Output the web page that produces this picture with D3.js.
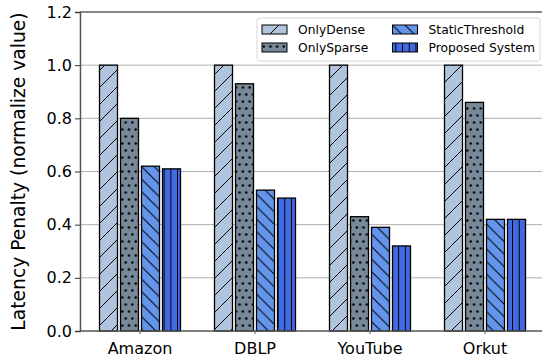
<!DOCTYPE html>
<html>
<head>
<meta charset="utf-8">
<script src="https://cdn.jsdelivr.net/npm/d3@7"></script>
<style>
  body { margin: 0; background: #fff; }
  svg { font-family: "DejaVu Sans", sans-serif; }
</style>
</head>
<body>
<svg width="542" height="362"></svg>
<script>
// data
categories = ["Amazon", "DBLP", "YouTube", "Orkut"];
seriesNames = ["OnlyDense", "OnlySparse", "StaticThreshold", "Proposed System"];
onlyDense = [1.0, 1.0, 1.0, 1.0];
onlySparse = [0.80, 0.93, 0.43, 0.86];
staticThreshold = [0.62, 0.53, 0.39, 0.42];
proposedSystem = [0.61, 0.50, 0.32, 0.42];
yTicks = [0.0, 0.2, 0.4, 0.6, 0.8, 1.0, 1.2];

const seriesValues = [onlyDense, onlySparse, staticThreshold, proposedSystem];
const colors = ["#b0c4de", "#778899", "#6495ed", "#4169e1"];
const hatches = ["diag", "dots", "back", "vert"];

const svg = d3.select("svg");
const margin = { left: 80, top: 12, right: 0, bottom: 31 };
const width = 542, height = 362;
const y0 = height - margin.bottom;

// hatch patterns
const defs = svg.append("defs");
hatches.forEach(function(h, i){
    var p = defs.append("pattern")
        .attr("id", "pat-" + h)
        .attr("patternUnits", "userSpaceOnUse");
    if (h == "diag") {
        var s = 17;
        p.attr("width", s).attr("height", s);
        p.append("rect").attr("width", s).attr("height", s).attr("fill", colors[i]);
        p.append("path").attr("d", "M-2," + (s + 2) + " L" + (s + 2) + ",-2 M-4,4 L4,-4 M" + (s - 4) + "," + (s + 4) + " L" + (s + 4) + "," + (s - 4))
            .attr("stroke", "#000").attr("stroke-width", 1);
    } else if (h == "back") {
        var s = 12.5;
        p.attr("width", s).attr("height", s);
        p.append("rect").attr("width", s).attr("height", s).attr("fill", colors[i]);
        p.append("path").attr("d", "M-2,-2 L" + (s + 2) + "," + (s + 2) + " M-4," + (s - 4) + " L4," + (s + 4) + " M" + (s - 4) + ",-4 L" + (s + 4) + ",4")
            .attr("stroke", "#000").attr("stroke-width", 1);
    } else if (h == "vert") {
        var s = 6.7;
        p.attr("width", s).attr("height", 10);
        p.append("rect").attr("width", s).attr("height", 10).attr("fill", colors[i]);
        p.append("path").attr("d", "M" + (s / 2) + ",0 L" + (s / 2) + ",10").attr("stroke", "#000").attr("stroke-width", 1);
    } else {
        p.attr("width", 6.7).attr("height", 14);
        p.append("rect").attr("width", 6.7).attr("height", 14).attr("fill", colors[i]);
        p.append("circle").attr("cx", 1.7).attr("cy", 3.5).attr("r", 1.25).attr("fill", "#000");
        p.append("circle").attr("cx", 5.05).attr("cy", 10.5).attr("r", 1.25).attr("fill", "#000");
    }
});

// scales
const x = d3.scaleBand()
    .domain(categories)
    .range([82.5, 82.5 + 115 * 4]);
const groupW = 81;
const xs = d3.scaleBand()
    .domain(seriesNames)
    .range([0, groupW])
    .paddingInner(0.143);
const y = d3.scaleLinear().domain([0, 1.2]).range([y0, margin.top]);

// grid
svg.append("g")
    .selectAll("line")
    .data(yTicks.slice(1, -1))
    .enter()
    .append("line")
    .attr("x1", margin.left).attr("x2", width)
    .attr("y1", function(d){ return y(d); })
    .attr("y2", function(d){ return y(d); })
    .attr("stroke", "#b0b0b0")
    .attr("stroke-width", 1);

// bars
seriesValues.forEach(function(vals, si){
    svg.append("g")
        .selectAll("rect")
        .data(vals)
        .enter()
        .append("rect")
        .attr("x", function(d, i){ return x(categories[i]) + (x.bandwidth() - groupW) / 2 + xs(seriesNames[si]); })
        .attr("y", function(d){ return y(d); })
        .attr("width", xs.bandwidth())
        .attr("height", function(d){ return y0 - y(d); })
        .attr("fill", "url(#pat-" + hatches[si] + ")")
        .attr("stroke", "#000")
        .attr("stroke-width", 1.3);
});

// top line
svg.append("line")
    .attr("x1", margin.left).attr("x2", width)
    .attr("y1", y(1.2)).attr("y2", y(1.2))
    .attr("stroke", "#111").attr("stroke-width", 1.2);

// axes
const yAxis = svg.append("g")
    .attr("transform", "translate(" + margin.left + ",0)")
    .call(d3.axisLeft(y).tickValues(yTicks).tickFormat(d3.format(".1f")).tickSizeOuter(0).tickSize(5).tickPadding(3));
yAxis.selectAll("text").attr("font-size", 16).attr("fill", "#000").attr("font-family", "DejaVu Sans");
yAxis.select(".domain").attr("stroke", "#555").attr("stroke-width", 1.5);
yAxis.selectAll(".tick line").attr("stroke", "#333");

const xAxis = svg.append("g")
    .attr("transform", "translate(0," + y0 + ")")
    .call(d3.axisBottom(x).tickSizeOuter(0).tickSize(3).tickPadding(9));
xAxis.selectAll("text").attr("font-size", 16).attr("fill", "#000").attr("font-family", "DejaVu Sans");
xAxis.select(".domain").attr("stroke", "#555").attr("stroke-width", 1.5)
    .attr("d", "M" + margin.left + ",0H" + width);
xAxis.selectAll(".tick line").attr("stroke", "#555");

// y label
svg.append("text")
    .attr("transform", "translate(25," + (y0 + margin.top) / 2 + ") rotate(-90)")
    .attr("text-anchor", "middle")
    .attr("font-size", 18.7)
    .attr("fill", "#000")
    .text("Latency Penalty (normalize value)");

// legend
const legend = svg.append("g").attr("transform", "translate(257,18)");
legend.append("rect")
    .attr("width", 283).attr("height", 43)
    .attr("rx", 3)
    .attr("fill", "#fff").attr("fill-opacity", 0.85)
    .attr("stroke", "#d6d6d6");
seriesNames.forEach(function(name, i){
    var col = Math.floor(i / 2), row = i % 2;
    var g = legend.append("g").attr("transform", "translate(" + (5 + col * 130.5) + "," + (7 + row * 18) + ")");
    g.append("rect")
        .attr("width", 25).attr("height", 9)
        .attr("fill", "url(#pat-" + hatches[i] + ")")
        .attr("stroke", "#000").attr("stroke-width", 1);
    g.append("text")
        .attr("x", 36).attr("y", 9.2)
        .attr("font-size", 12.3)
        .attr("fill", "#000")
        .text(name);
});
</script>
</body>
</html>
